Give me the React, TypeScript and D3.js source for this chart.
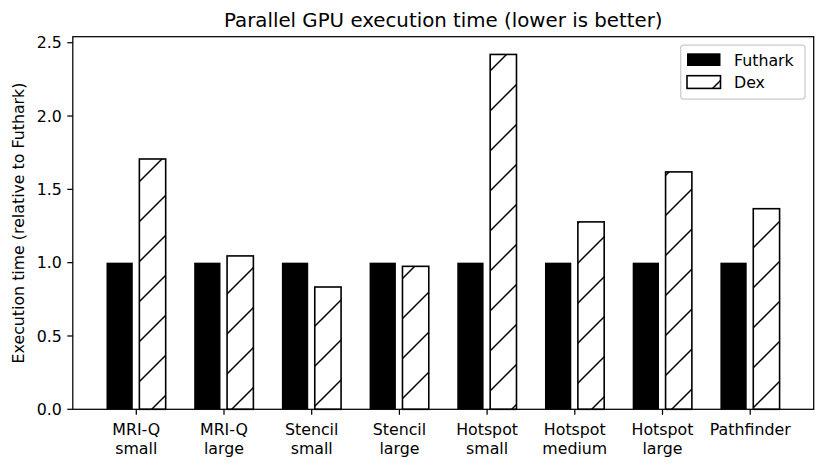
import React from "react";
import * as d3 from "d3";

const categories: string[][] = [
  ["MRI-Q", "small"],
  ["MRI-Q", "large"],
  ["Stencil", "small"],
  ["Stencil", "large"],
  ["Hotspot", "small"],
  ["Hotspot", "medium"],
  ["Hotspot", "large"],
  ["Pathfinder"],
];
const futhark: number[] = [1, 1, 1, 1, 1, 1, 1, 1];
const dex: number[] = [1.707, 1.046, 0.834, 0.975, 2.42, 1.278, 1.619, 1.368];
const yTicks: number[] = [0, 0.5, 1.0, 1.5, 2.0, 2.5];
const seriesNames: string[] = ["Futhark", "Dex"];

const FONT = "'DejaVu Sans', sans-serif";

export default function App() {
  const left = 72.8, right = 813.7, top = 36.7, bottom = 409.3;
  const x = d3.scaleLinear().domain([-0.724, 7.724]).range([left, right]);
  const y = d3.scaleLinear().domain([0, 2.541]).range([bottom, top]);
  const barW = 0.3;
  const offF = -0.19, offD = 0.185;
  const w = x(barW) - x(0);

  return (
    <svg
      width={831}
      height={469}
      style={{ position: "absolute", left: 0, top: 0, background: "#fff" }}
      fontFamily={FONT}
    >
      <defs>
        <pattern id="hatch" patternUnits="userSpaceOnUse" x={0} y={0} width={40} height={40}>
          <path
            d="M-5,6 L6,-5 M-5,46 L46,-5 M35,46 L46,35"
            stroke="#000"
            strokeWidth={1.5}
            fill="none"
          />
        </pattern>
      </defs>
      <rect x={0} y={0} width={831} height={469} fill="#fff" />

      {/* Futhark bars */}
      {futhark.map((v, i) => (
        <rect
          key={"f" + i}
          x={x(i + offF) - w / 2}
          y={y(v)}
          width={w}
          height={y(0) - y(v)}
          fill="#000"
        />
      ))}
      {/* Dex bars */}
      {dex.map((v, i) => (
        <g key={"d" + i}>
          <rect x={x(i + offD) - w / 2} y={y(v)} width={w} height={y(0) - y(v)} fill="#fff" />
          <rect x={x(i + offD) - w / 2} y={y(v)} width={w} height={y(0) - y(v)} fill="url(#hatch)" />
          <rect
            x={x(i + offD) - w / 2}
            y={y(v)}
            width={w}
            height={y(0) - y(v)}
            fill="none"
            stroke="#000"
            strokeWidth={1.6}
          />
        </g>
      ))}

      {/* axes frame */}
      <rect x={left} y={top} width={right - left} height={bottom - top} fill="none" stroke="#000" strokeWidth={1.25} />

      {/* y ticks */}
      {yTicks.map((t) => (
        <g key={"y" + t}>
          <line x1={left - 5.5} x2={left} y1={y(t)} y2={y(t)} stroke="#000" strokeWidth={1.25} />
          <text x={left - 11} y={y(t)} dy="0.36em" textAnchor="end" fontSize={15.8} fill="#000">
            {t.toFixed(1)}
          </text>
        </g>
      ))}

      {/* x ticks */}
      {categories.map((c, i) => (
        <g key={"x" + i}>
          <line x1={x(i)} x2={x(i)} y1={bottom} y2={bottom + 5.5} stroke="#000" strokeWidth={1.25} />
          {c.map((line, j) => (
            <text key={j} x={x(i)} y={435 + j * 18.5} textAnchor="middle" fontSize={15.8} fill="#000">
              {line}
            </text>
          ))}
        </g>
      ))}

      {/* y label */}
      <text
        transform={`translate(24,${(top + bottom) / 2}) rotate(-90)`}
        textAnchor="middle"
        fontSize={15.8}
        fill="#000"
      >
        Execution time (relative to Futhark)
      </text>

      {/* title */}
      <text x={(left + right) / 2} y={27} textAnchor="middle" fontSize={19.8} fill="#000">
        Parallel GPU execution time (lower is better)
      </text>

      {/* legend */}
      <rect x={680.7} y={45} width={124.3} height={54} rx={3} fill="#fff" fillOpacity={0.8} stroke="#cccccc" strokeWidth={1.25} />
      <rect x={687} y={53.3} width={33.5} height={12.7} fill="#000" />
      <rect x={687} y={75.7} width={33.5} height={12.7} fill="#fff" />
      <rect x={687} y={75.7} width={33.5} height={12.7} fill="url(#hatch)" />
      <rect x={687} y={75.7} width={33.5} height={12.7} fill="none" stroke="#000" strokeWidth={1.6} />
      {seriesNames.map((s, i) => (
        <text key={s} x={734} y={65.5 + i * 22.3} fontSize={15.8} fill="#000">
          {s}
        </text>
      ))}
    </svg>
  );
}
